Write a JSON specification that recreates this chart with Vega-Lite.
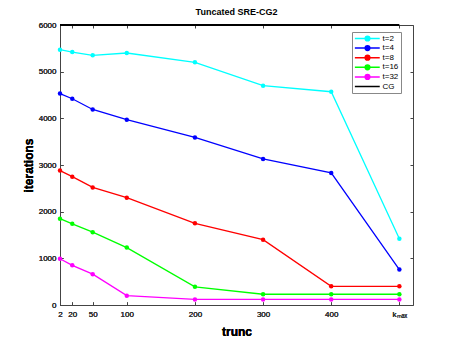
{
  "$schema": "https://vega.github.io/schema/vega-lite/v6.json",
  "width": 353,
  "height": 280,
  "autosize": {"type": "none"},
  "padding": {"left": 60, "top": 25, "right": 44, "bottom": 38},
  "background": "white",
  "title": {"text": "Tuncated SRE-CG2", "fontSize": 9, "fontWeight": "bold", "font": "Liberation Sans", "color": "#000", "offset": 4},
  "config": {
    "font": "Liberation Sans",
    "view": {"stroke": "#444", "strokeWidth": 1},
    "axis": {"grid": false, "domain": false, "tickColor": "#444", "labelColor": "#333", "labelFont": "Liberation Sans", "labelFontSize": 8, "titleFont": "Liberation Sans", "titleColor": "#000", "titleFontWeight": "bold"}
  },
  "data": {"values": [
    {"series": "t=2", "trunc": 2, "iter": 5470},
    {"series": "t=2", "trunc": 20, "iter": 5420},
    {"series": "t=2", "trunc": 50, "iter": 5350},
    {"series": "t=2", "trunc": 100, "iter": 5400},
    {"series": "t=2", "trunc": 200, "iter": 5200},
    {"series": "t=2", "trunc": 300, "iter": 4700},
    {"series": "t=2", "trunc": 400, "iter": 4570},
    {"series": "t=2", "trunc": 500, "iter": 1420},
    {"series": "t=4", "trunc": 2, "iter": 4530},
    {"series": "t=4", "trunc": 20, "iter": 4420},
    {"series": "t=4", "trunc": 50, "iter": 4190},
    {"series": "t=4", "trunc": 100, "iter": 3970},
    {"series": "t=4", "trunc": 200, "iter": 3590},
    {"series": "t=4", "trunc": 300, "iter": 3130},
    {"series": "t=4", "trunc": 400, "iter": 2830},
    {"series": "t=4", "trunc": 500, "iter": 760},
    {"series": "t=8", "trunc": 2, "iter": 2880},
    {"series": "t=8", "trunc": 20, "iter": 2750},
    {"series": "t=8", "trunc": 50, "iter": 2520},
    {"series": "t=8", "trunc": 100, "iter": 2300},
    {"series": "t=8", "trunc": 200, "iter": 1750},
    {"series": "t=8", "trunc": 300, "iter": 1400},
    {"series": "t=8", "trunc": 400, "iter": 400},
    {"series": "t=8", "trunc": 500, "iter": 400},
    {"series": "t=16", "trunc": 2, "iter": 1850},
    {"series": "t=16", "trunc": 20, "iter": 1740},
    {"series": "t=16", "trunc": 50, "iter": 1560},
    {"series": "t=16", "trunc": 100, "iter": 1230},
    {"series": "t=16", "trunc": 200, "iter": 390},
    {"series": "t=16", "trunc": 300, "iter": 230},
    {"series": "t=16", "trunc": 400, "iter": 230},
    {"series": "t=16", "trunc": 500, "iter": 230},
    {"series": "t=32", "trunc": 2, "iter": 990},
    {"series": "t=32", "trunc": 20, "iter": 850},
    {"series": "t=32", "trunc": 50, "iter": 660},
    {"series": "t=32", "trunc": 100, "iter": 200},
    {"series": "t=32", "trunc": 200, "iter": 120},
    {"series": "t=32", "trunc": 300, "iter": 120},
    {"series": "t=32", "trunc": 400, "iter": 120},
    {"series": "t=32", "trunc": 500, "iter": 120},
    {"series": "CG", "trunc": 2, "iter": 6000},
    {"series": "CG", "trunc": 500, "iter": 6000}
  ]},
  "encoding": {
    "x": {"field": "trunc", "type": "quantitative",
      "scale": {"domain": [2, 520], "nice": false, "zero": false},
      "axis": {"orient": "bottom", "values": [2, 20, 50, 100, 200, 300, 400, 500], "labelExpr": "datum.value == 500 ? 'kₘₐₓ' : datum.label", "tickSize": -3, "labelPadding": 8, "labelFlush": false, "labelOverlap": false, "title": "trunc", "titleFontSize": 12, "titlePadding": 8}},
    "y": {"field": "iter", "type": "quantitative",
      "scale": {"domain": [0, 6000], "nice": false},
      "axis": {"orient": "left", "values": [0, 1000, 2000, 3000, 4000, 5000, 6000], "format": "d", "tickSize": -3, "labelPadding": 7, "labelFlush": false, "title": "iterations", "titleFontSize": 12, "titlePadding": 3}},
    "color": {"field": "series", "type": "nominal",
      "scale": {"domain": ["t=2", "t=4", "t=8", "t=16", "t=32", "CG"], "range": ["#00FFFF", "#0000FF", "#FF0000", "#00FF00", "#FF00FF", "#000000"]},
      "legend": {"title": null, "orient": "none", "legendX": 292, "legendY": 7, "padding": 2.5, "strokeColor": "#888", "fillColor": "white", "labelFontSize": 8, "labelColor": "#000", "symbolSize": 600, "symbolStrokeWidth": 1.5, "rowPadding": 1.6, "clipHeight": 8, "symbolOffset": 0, "labelOffset": 2,
        "encode": {"symbols": {"update": {
          "shape": {"signal": "datum.value === 'CG' ? 'M-1.04,0H1' : 'M-1.04,0H1M-0.19,0A0.19,0.19,0,1,1,0.19,0A0.19,0.19,0,1,1,-0.19,0'"},
          "fill": {"scale": "color", "field": "value"},
          "stroke": {"scale": "color", "field": "value"},
          "strokeWidth": {"value": 1.5},
          "opacity": {"value": 1}
        }}}}
    }
  },
  "layer": [
    {"transform": [{"filter": "datum.series !== 'CG'"}], "mark": {"type": "line", "strokeWidth": 1.3}},
    {"transform": [{"filter": "datum.series === 'CG'"}], "mark": {"type": "line", "strokeWidth": 2.2, "clip": false}},
    {"transform": [{"filter": "datum.series !== 'CG'"}], "mark": {"type": "point", "filled": true, "size": 20, "opacity": 1}},
    {"mark": {"type": "point", "opacity": 0},
      "encoding": {
        "x": {"field": "trunc", "type": "quantitative", "axis": {"orient": "top", "values": [2, 20, 50, 100, 200, 300, 400, 500], "labels": false, "tickSize": -3, "title": null}},
        "y": {"field": "iter", "type": "quantitative", "axis": {"orient": "right", "values": [0, 1000, 2000, 3000, 4000, 5000, 6000], "labels": false, "tickSize": -3, "title": null}}
      }}
  ],
  "resolve": {"axis": {"x": "independent", "y": "independent"}}
}
